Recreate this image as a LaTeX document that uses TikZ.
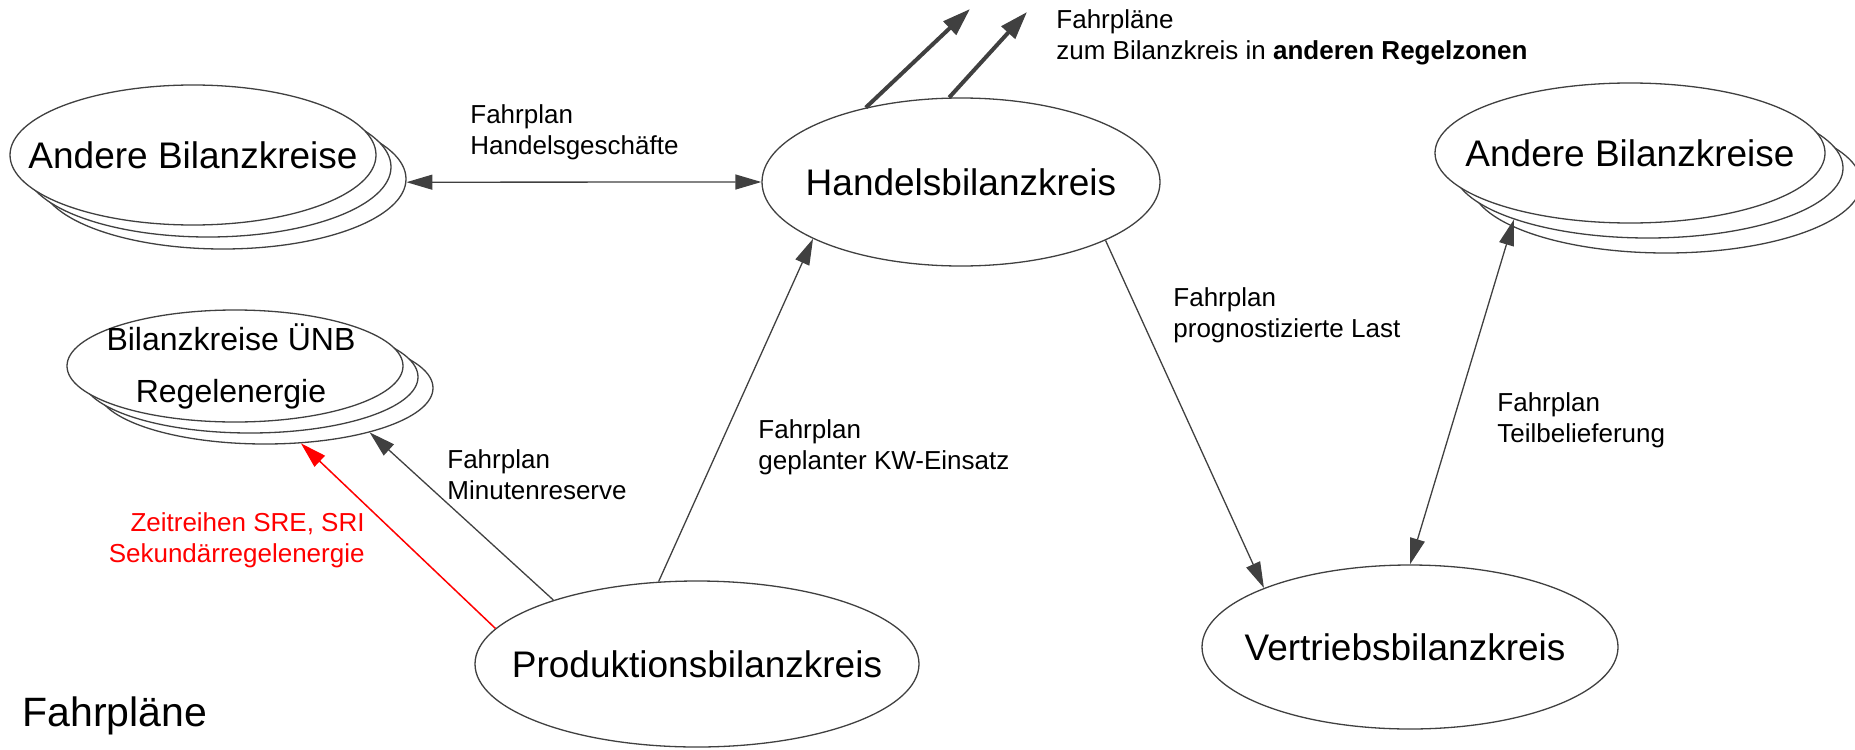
\documentclass[tikz,border=0pt]{standalone}
\usepackage{fontspec}
\setmainfont{Liberation Sans}
\usetikzlibrary{shapes.geometric,arrows.meta}
\definecolor{lc}{HTML}{404040}
\definecolor{rd}{HTML}{FF0000}
\begin{document}
\begin{tikzpicture}[x=0.5pt,y=-0.5pt,
  >={Triangle[length=13pt,width=7.5pt]},
  ell/.style={draw=lc, line width=0.65pt, ellipse, inner sep=0pt, fill=white},
  big/.style={inner sep=0pt, font=\fontsize{18.5}{22}\selectfont},
  mid/.style={inner sep=0pt, align=center, font=\fontsize{16}{26}\selectfont},
  lab/.style={inner sep=0pt, anchor=north west, align=left, font=\fontsize{13}{15.5}\selectfont},
  redlab/.style={inner sep=0pt, anchor=north east, align=right, text=rd, font=\fontsize{13}{15.5}\selectfont},
  conn/.style={draw=lc, line width=0.65pt},
  redconn/.style={draw=rd, line width=0.75pt},
  thickconn/.style={draw=lc, line width=2pt, -{Triangle[length=14pt,width=9pt]}}
]
\useasboundingbox (0,0) rectangle (1855,749);

% left stack "Andere Bilanzkreise"
\node[ell, minimum width=366pt/2, minimum height=140pt/2] (al3) at (223,179) {};
\node[ell, minimum width=366pt/2, minimum height=140pt/2] (al2) at (208,167) {};
\node[ell, minimum width=366pt/2, minimum height=140pt/2] (al1) at (193,155) {};
\node[big] (alt) at (al1) {Andere Bilanzkreise};

% right stack "Andere Bilanzkreise"
\node[ell, minimum width=390pt/2, minimum height=140pt/2] (ar3) at (1666,183) {};
\node[ell, minimum width=390pt/2, minimum height=140pt/2] (ar2) at (1648,168) {};
\node[ell, minimum width=390pt/2, minimum height=140pt/2] (ar1) at (1630,153) {};
\node[big] (art) at (ar1) {Andere Bilanzkreise};

% UeNB stack
\node[ell, minimum width=336pt/2, minimum height=112pt/2] (ub3) at (265,388) {};
\node[ell, minimum width=336pt/2, minimum height=112pt/2] (ub2) at (250,377) {};
\node[ell, minimum width=336pt/2, minimum height=112pt/2] (ub1) at (235,366) {};
\node[mid] (ubt) at (231,366) {Bilanzkreise ÜNB\\Regelenergie};

% Handelsbilanzkreis
\node[ell, minimum width=398pt/2, minimum height=168pt/2] (hb) at (961,182) {};
\node[big] (hbt) at (hb) {Handelsbilanzkreis};

% Produktionsbilanzkreis
\node[ell, minimum width=444pt/2, minimum height=166pt/2] (pb) at (697,664) {};
\node[big] (pbt) at (pb) {Produktionsbilanzkreis};

% Vertriebsbilanzkreis
\node[ell, minimum width=416pt/2, minimum height=164pt/2] (vb) at (1410,647) {};
\node[big] (vbt) at (1405,647) {Vertriebsbilanzkreis};

% labels
\node[lab] (l1) at (470,104) {Fahrplan\\Handelsgeschäfte};
\node[lab] (l2) at (758,419) {Fahrplan\\geplanter KW-Einsatz};
\node[lab] (l3) at (1173,287) {Fahrplan\\prognostizierte Last};
\node[lab] (l4) at (1497,392) {Fahrplan\\Teilbelieferung};
\node[lab] (l5) at (447,449) {Fahrplan\\Minutenreserve};
\node[redlab] (l6) at (365,512) {Zeitreihen SRE, SRI\\Sekundärregelenergie};
\node[lab] (l7) at (1056,9) {Fahrpläne\\zum Bilanzkreis in \textbf{anderen Regelzonen}};
\node[inner sep=0pt, anchor=north west, font=\fontsize{20.5}{24}\selectfont] (title) at (22,696) {Fahrpläne};

% connectors
\coordinate (t1) at (970,9);
\coordinate (t2) at (1027,12);
\draw[conn,<->] (al3.-1) -- (hb.west);
\draw[conn,->] (hb.-22.3) -- (vb.158.9);
\draw[conn,<->] (ar2.201.4) -- (vb.90);
\draw[conn,->] (pb.115.4) -- (hb.201.5);
\draw[conn,->] (pb.156.2) -- (ub3.-23.7);
\draw[redconn,->] (pb.170.3) -- (ub3.-57.8);
\draw[thickconn] (hb.142.3) -- (t1);
\draw[thickconn] (hb.98.7) -- (t2);
\end{tikzpicture}
\end{document}
